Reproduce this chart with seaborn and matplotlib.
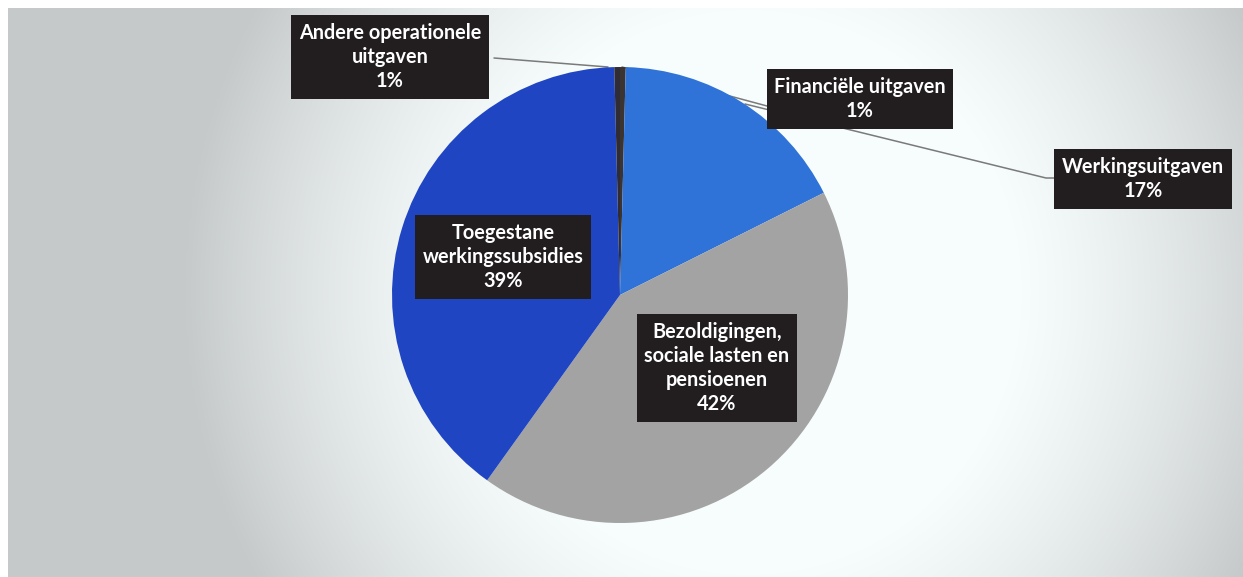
import matplotlib.pyplot as plt
import numpy as np
import seaborn as sns

# slices, clockwise from 12 o'clock
categories = [
    "Financiële uitgaven",
    "Werkingsuitgaven",
    "Bezoldigingen,\nsociale lasten en\npensioenen",
    "Toegestane\nwerkingssubsidies",
    "Andere operationele\nuitgaven",
]
shares = [0.4, 17.2, 42.3, 39.7, 0.4]
pct_labels = ["1%", "17%", "42%", "39%", "1%"]
colors = ["#3b3430", "#2f72d8", "#a3a3a3", "#1f45c2", "#302c36"]

W, H = 1243, 577


def fy(y):
    return H - y


sns.set_theme(style="white")
plt.rcParams["font.family"] = ["Lato", "DejaVu Sans"]

fig = plt.figure(figsize=(W / 100, H / 100), dpi=100)
ax = fig.add_axes([0, 0, 1, 1])

# scanned-paper style background: grey edges, white centre
xx, yy = np.meshgrid(np.linspace(0, 1, 400), np.linspace(0, 1, 200))
d = ((xx - 0.6) / 0.40) ** 2 + ((yy - 0.5) / 0.9) ** 2
shade = 1 - 0.2 * np.clip(d - 0.3, 0, 1)
bg = np.dstack([shade * 0.97, shade * 0.99, shade * 0.99])
ax.imshow(bg, extent=(8, W, 0, H - 8), zorder=0, interpolation="bilinear")

cx, cy, r = 620, fy(295), 228
wedges, _ = ax.pie(
    shares,
    colors=colors,
    startangle=90,
    counterclock=False,
    center=(cx, cy),
    radius=r,
    wedgeprops=dict(linewidth=0, zorder=3),
)

# leader lines (drawn behind the pie and the boxes)
leaders = [
    [(494, 58), (608, 67)],
    [(767, 106), (622, 67)],
    [(1055, 178), (1046, 178), (745, 104)],
]
for pts in leaders:
    xs = [p[0] for p in pts]
    ys = [fy(p[1]) for p in pts]
    ax.plot(xs, ys, color="#7a7a7a", lw=1.1, zorder=2)

label_pos = [(860, 99), (1143, 179), (717, 368), (503, 257), (390, 57)]
for name, pct, (lx, ly) in zip(categories, pct_labels, label_pos):
    ax.text(
        lx, fy(ly), f"{name}\n{pct}",
        ha="center", va="center", color="white", fontsize=14.3,
        fontweight="bold", linespacing=1.25, zorder=5,
        bbox=dict(boxstyle="square,pad=0.38", fc="#221e1f", ec="none"),
    )

ax.set_xlim(0, W)
ax.set_ylim(0, H)
ax.set_aspect("equal")
ax.axis("off")
fig.patch.set_facecolor("white")

fig.savefig("out.png", dpi=100)
